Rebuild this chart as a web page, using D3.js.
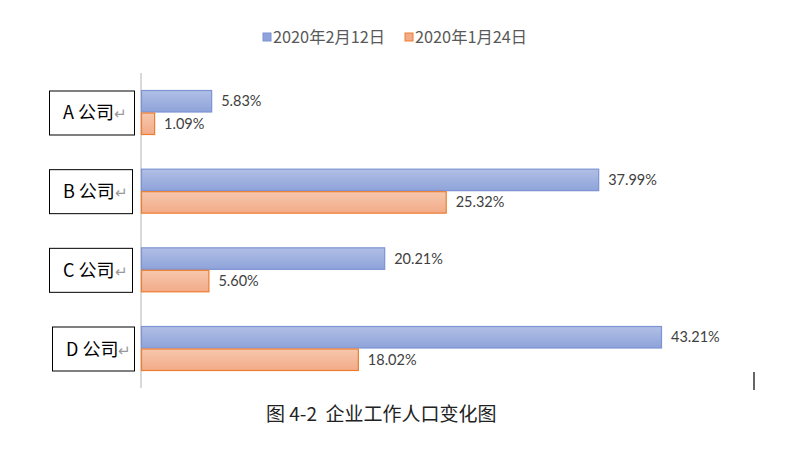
<!DOCTYPE html>
<html><head><meta charset="utf-8">
<script src="https://cdn.jsdelivr.net/npm/d3@7"></script>
<style>body{margin:0;background:#fff;}svg{display:block;}</style>
</head><body>
<svg id="c" width="800" height="463"></svg>
<script>
const categories = ["A 公司", "B 公司", "C 公司", "D 公司"];
const seriesNames = ["2020年2月12日", "2020年1月24日"];
const feb12 = [5.83, 37.99, 20.21, 43.21];
const jan24 = [1.09, 25.32, 5.60, 18.02];
const caption = "图 4-2  企业工作人口变化图";

const svg = d3.select("#c");
const font = "'Noto Sans CJK SC','Noto Sans',sans-serif";
const defs = svg.append("defs");
const gB = defs.append("linearGradient").attr("id","gb").attr("x1",0).attr("y1",0).attr("x2",0).attr("y2",1);
gB.append("stop").attr("offset","0%").attr("stop-color","#b1bfe5");
gB.append("stop").attr("offset","100%").attr("stop-color","#8ea3da");
const gO = defs.append("linearGradient").attr("id","go").attr("x1",0).attr("y1",0).attr("x2",0).attr("y2",1);
gO.append("stop").attr("offset","0%").attr("stop-color","#f7c7ad");
gO.append("stop").attr("offset","100%").attr("stop-color","#f2ab88");

const x0 = 141;
const x = d3.scaleLinear().domain([0, 43.21]).range([x0, 661]);
const y = d3.scaleBand().domain(categories).range([90, 371]).paddingInner(0.428).paddingOuter(0);
const sub = d3.scaleBand().domain([0,1]).range([0, y.bandwidth()]);

// axis line
svg.append("line").attr("x1",x0).attr("x2",x0).attr("y1",73).attr("y2",388)
  .attr("stroke","#d9d9d9").attr("stroke-width",2);

const series = [feb12, jan24];
const fills = ["url(#gb)","url(#go)"];
const strokes = ["#7d93d3","#ed7d31"];
series.forEach((vals, si) => {
  const g = svg.append("g");
  g.selectAll("rect").data(vals).join("rect")
    .attr("x", x0 + 0.5)
    .attr("y", (d,i) => y(categories[i]) + sub(si) + 0.5)
    .attr("width", d => x(d) - x0)
    .attr("height", sub.bandwidth() - 1)
    .attr("fill", fills[si]).attr("stroke", strokes[si]).attr("stroke-width", 1.2);
  g.selectAll("text").data(vals).join("text")
    .attr("x", d => x(d) + 10)
    .attr("y", (d,i) => y(categories[i]) + sub(si) + sub.bandwidth()/2 + 5)
    .attr("font-family", "Lato,'Open Sans',sans-serif").attr("font-size", 14.5)
    .attr("fill", "#404040")
    .text(d => d.toFixed(2) + "%");
});

// category boxes
const boxes = [[49,134],[49,132],[49,132],[52,134]];
categories.forEach((c,i) => {
  const top = y(c) + 1;
  const h = y.bandwidth() - 1;
  const g = svg.append("g");
  g.append("rect").attr("x", boxes[i][0]+0.5).attr("y", top).attr("width", boxes[i][1]-boxes[i][0]).attr("height", h)
    .attr("fill","#fff").attr("stroke","#000").attr("stroke-width",1);
  const t = g.append("text").attr("x", boxes[i][0] + 14).attr("y", top + h/2 + 6.5)
    .attr("font-family", font).attr("font-size", 18).attr("fill","#000");
  t.append("tspan").text(c);
  t.append("tspan").attr("fill","#999").attr("font-size",15).text("↵");
});

// legend
const leg = [[263, 273], [405, 415]];
seriesNames.forEach((n,i) => {
  svg.append("rect").attr("x", leg[i][0]).attr("y", 33).attr("width", 8).attr("height", 8)
    .attr("fill", i===0 ? "#8ea3da" : "#f2ab88").attr("stroke", strokes[i]).attr("stroke-width",1);
  svg.append("text").attr("x", leg[i][1]).attr("y", 43).attr("font-family", font).attr("font-size", 16.3)
    .attr("fill","#595959").text(n);
});

// caption
svg.append("text").attr("x", 266).attr("y", 421).attr("font-family", font).attr("font-size", 19)
  .attr("fill","#222").attr("xml:space","preserve").style("white-space","pre").text(caption);

// stray cursor mark
svg.append("line").attr("x1",754).attr("x2",754).attr("y1",372).attr("y2",390).attr("stroke","#333").attr("stroke-width",1.5);
</script>
</body></html>
